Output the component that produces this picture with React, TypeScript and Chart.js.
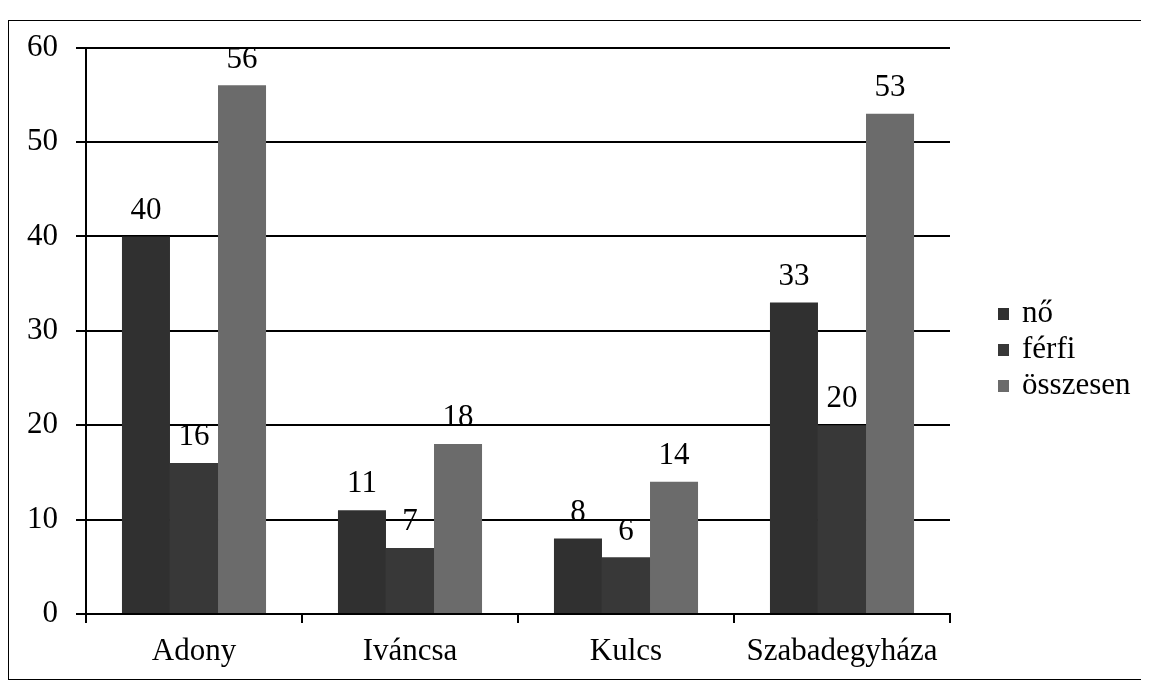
import React, { useEffect, useRef } from "react";
import { Chart, registerables } from "chart.js";

Chart.register(...registerables);

const categories = ["Adony", "Iváncsa", "Kulcs", "Szabadegyháza"];
const seriesNames = ["nő", "férfi", "összesen"];
const noValues = [40, 11, 8, 33];
const ferfiValues = [16, 7, 6, 20];
const osszesenValues = [56, 18, 14, 53];
const seriesColors = ["#303030", "#383838", "#6b6b6b"];
const yTicks = [0, 10, 20, 30, 40, 50, 60];

const FONT = "'Liberation Serif', 'Times New Roman', serif";

const labelPlugin = {
  id: "barValueLabels",
  afterDatasetsDraw(chart: any) {
    const ctx = chart.ctx;
    ctx.save();
    ctx.font = `31px ${FONT}`;
    ctx.fillStyle = "#000";
    ctx.textAlign = "center";
    ctx.textBaseline = "middle";
    chart.data.datasets.forEach((ds: any, i: number) => {
      const meta = chart.getDatasetMeta(i);
      meta.data.forEach((bar: any, j: number) => {
        ctx.fillText(String(ds.data[j]), bar.x, bar.y - 26);
      });
    });
    ctx.restore();
  },
};

const legendPlugin = {
  id: "sideLegend",
  afterDraw(chart: any) {
    const ctx = chart.ctx;
    const area = chart.chartArea;
    ctx.save();
    ctx.font = `31px ${FONT}`;
    ctx.textAlign = "left";
    ctx.textBaseline = "middle";
    chart.data.datasets.forEach((ds: any, i: number) => {
      const y = 303 + i * 36;
      const x = area.right + 48;
      ctx.fillStyle = ds.backgroundColor;
      ctx.fillRect(x, y - 6, 11, 12);
      ctx.fillStyle = "#000";
      ctx.fillText(ds.label, x + 24, y);
    });
    ctx.restore();
  },
};

export default function App() {
  const canvasRef = useRef<HTMLCanvasElement | null>(null);

  useEffect(() => {
    if (!canvasRef.current) return;
    const values = [noValues, ferfiValues, osszesenValues];
    const chart = new Chart(canvasRef.current, {
      type: "bar",
      data: {
        labels: categories,
        datasets: seriesNames.map((name, i) => ({
          label: name,
          data: values[i],
          backgroundColor: seriesColors[i],
          borderWidth: 0,
          barPercentage: 1,
          categoryPercentage: 0.667,
        })),
      },
      options: {
        animation: false,
        responsive: true,
        maintainAspectRatio: false,
        layout: { padding: { left: 0, top: 19, right: 199, bottom: 0 } },
        plugins: {
          legend: { display: false },
          tooltip: { enabled: false },
        },
        scales: {
          x: {
            afterFit: (scale: any) => {
              scale.height = 65;
            },
            grid: {
              display: true,
              drawOnChartArea: false,
              drawTicks: true,
              tickLength: 9,
              color: "#000",
              lineWidth: 2,
              offset: true,
            },
            border: { display: true, color: "#000", width: 2 },
            ticks: {
              color: "#000",
              font: { family: FONT, size: 31 },
              padding: 10,
            },
          },
          y: {
            min: 0,
            max: 60,
            afterFit: (scale: any) => {
              scale.width = 77;
            },
            afterBuildTicks: (scale: any) => {
              scale.ticks = yTicks.map((v) => ({ value: v }));
            },
            grid: {
              color: "#000",
              lineWidth: 2,
              drawTicks: true,
              tickLength: 10,
            },
            border: { display: true, color: "#000", width: 2 },
            ticks: {
              color: "#000",
              font: { family: FONT, size: 31 },
              padding: 18,
            },
          },
        },
      },
      plugins: [labelPlugin, legendPlugin],
    });
    return () => chart.destroy();
  }, []);

  return (
    <div
      style={{
        marginTop: 12,
        width: 1141,
        height: 660,
        borderLeft: "1px solid #000",
        borderTop: "1px solid #000",
        borderBottom: "1px solid #000",
        boxSizing: "border-box",
        position: "relative",
        overflow: "hidden",
      }}
    >
      <div
        style={{
          position: "absolute",
          left: 0,
          right: 0,
          top: -10,
          height: 668,
        }}
      >
        <canvas ref={canvasRef} />
      </div>
    </div>
  );
}
